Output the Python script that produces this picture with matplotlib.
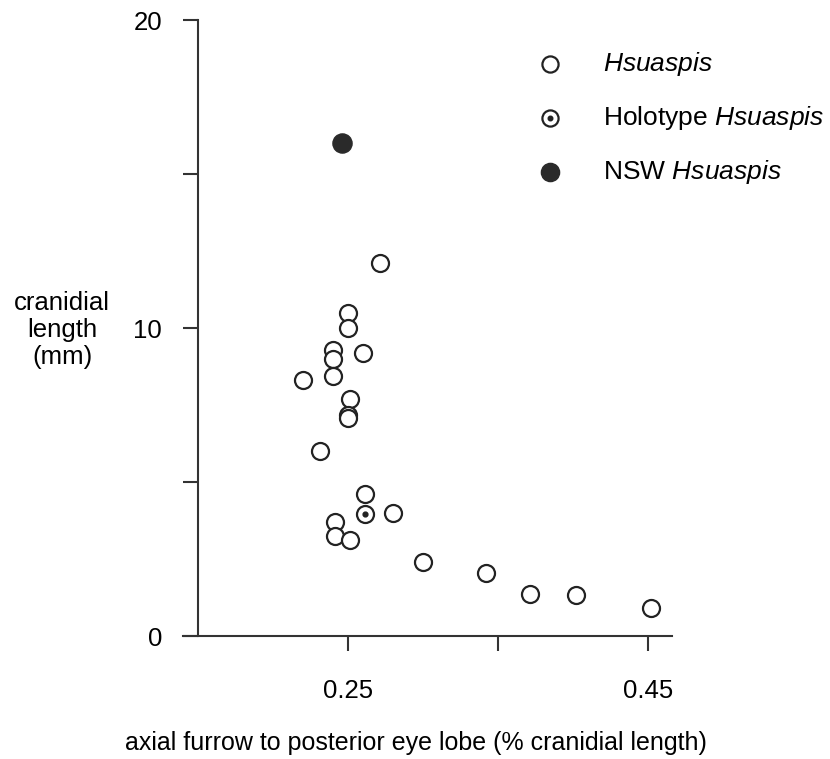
import matplotlib
matplotlib.use("Agg")
import matplotlib.pyplot as plt

plt.rcParams['font.family'] = ['Liberation Sans', 'DejaVu Sans']
plt.rcParams['mathtext.fontset'] = 'custom'
plt.rcParams['mathtext.it'] = 'Liberation Sans:italic'
plt.rcParams['mathtext.rm'] = 'Liberation Sans'

# Hsuaspis specimens (axial furrow to posterior eye lobe, cranidial length mm)
hsu_x = [0.271, 0.250, 0.250, 0.240, 0.240, 0.260, 0.220, 0.240, 0.251, 0.250,
         0.250, 0.231, 0.261, 0.280, 0.241, 0.241, 0.251, 0.300, 0.342, 0.371,
         0.402, 0.452]
hsu_y = [12.1, 10.5, 10.0, 9.3, 9.0, 9.2, 8.3, 8.45, 7.7, 7.18,
         7.07, 6.0, 4.6, 4.0, 3.7, 3.25, 3.12, 2.4, 2.05, 1.36,
         1.33, 0.9]

holo_x = [0.261]
holo_y = [3.95]

nsw_x = [0.246]
nsw_y = [16.0]

xticks = [0.25, 0.35, 0.45]
xticklabels = ['0.25', '', '0.45']
yticks = [0, 5, 10, 15, 20]
yticklabels = ['0', '', '10', '', '20']

W, H = 830, 759
fig = plt.figure(figsize=(W / 100, H / 100), dpi=100)
ax = fig.add_axes([183.3 / W, 1 - 636 / H, 489 / W, 616 / H])
ax.set_xlim(0.14, 0.466)
ax.set_ylim(0, 20)

dark = '#222222'
ms = 150
h1 = ax.scatter(hsu_x, hsu_y, s=ms, facecolors='white', edgecolors=dark, linewidths=1.6, zorder=3)
h2a = ax.scatter(holo_x, holo_y, s=ms, facecolors='white', edgecolors=dark, linewidths=1.6, zorder=3)
h2b = ax.scatter(holo_x, holo_y, s=12, color=dark, zorder=4)
h3 = ax.scatter(nsw_x, nsw_y, s=190, color='#2a2a2a', zorder=3)

for s in ['top', 'right']:
    ax.spines[s].set_visible(False)
ax.spines['left'].set_position(('data', 0.15))
for s in ['left', 'bottom']:
    ax.spines[s].set_linewidth(1.5)
    ax.spines[s].set_color('#333333')

ax.set_xticks(xticks)
ax.set_xticklabels(xticklabels)
ax.set_yticks(yticks)
ax.set_yticklabels(yticklabels)
ax.tick_params(axis='x', length=11, width=1.5, color='#333333', pad=20, labelsize=18.5)
ax.tick_params(axis='y', length=11, width=1.5, color='#333333', pad=15, labelsize=18.5)

ax.set_ylabel('cranidial\nlength\n(mm)', rotation=0, ha='center', va='center',
              fontsize=18.5, linespacing=1.15, multialignment='center')
ax.yaxis.set_label_coords(-0.248, 0.497)
ax.set_xlabel('axial furrow to posterior eye lobe (% cranidial length)',
              fontsize=18, va='center')
ax.xaxis.set_label_coords(0.476, -0.174)

leg = ax.legend([h1, (h2a, h2b), h3],
                [r'$\it{Hsuaspis}$', r'Holotype $\it{Hsuaspis}$', r'NSW $\it{Hsuaspis}$'],
                loc='upper left', bbox_to_anchor=(536.8 / W, 1 - 50 / H),
                bbox_transform=fig.transFigure, frameon=False, fontsize=19,
                handlelength=1.0, handletextpad=1.51, labelspacing=0.98,
                borderpad=0, borderaxespad=0, markerscale=0.95)

fig.savefig('out.png', dpi=100)
